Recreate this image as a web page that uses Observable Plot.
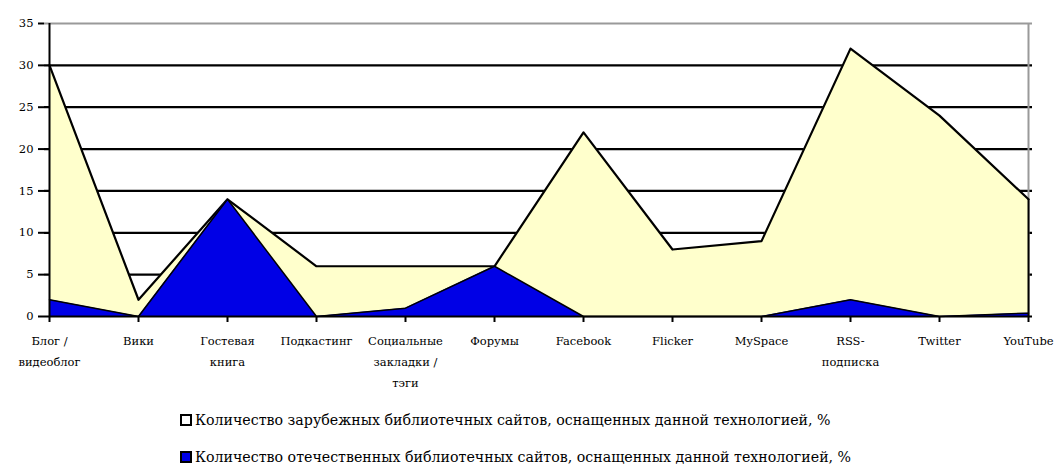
<!DOCTYPE html>
<html><head><meta charset="utf-8">
<script src="https://cdn.jsdelivr.net/npm/d3@7"></script>
<script src="https://cdn.jsdelivr.net/npm/@observablehq/plot@0.6"></script>
<style>
body{margin:0;background:#fff;font-family:"DejaVu Serif",serif;}
#wrap{position:relative;width:1064px;height:466px;overflow:hidden}
.leg{position:absolute;left:180px;font-size:14.2px;line-height:16px;height:16px;display:flex;align-items:center;color:#000;white-space:nowrap}
.sw{width:8px;height:8px;border:2px solid #000;margin-right:3px;flex:none}
</style></head><body><div id="wrap"></div>
<script>
const categories = ["Блог /\nвидеоблог","Вики","Гостевая\nкнига","Подкастинг","Социальные\nзакладки /\nтэги","Форумы","Facebook","Flicker","MySpace","RSS-\nподписка","Twitter","YouTube"];
const foreign = [30,2,14,6,6,6,22,8,9,32,24,14];
const domestic = [2,0,14,0,1,6,0,0,0,2,0,0.4];
const yTicks = [0,5,10,15,20,25,30,35];
const gridTicks = [5,10,15,20,25,30];
const legendLabels = ["Количество зарубежных библиотечных сайтов, оснащенных данной технологией, %","Количество отечественных библиотечных сайтов, оснащенных данной технологией, %"];
const legendColors = ["#ffffff","#0000e6"];
const foreignFill = "#ffffcc", domesticFill = "#0000e6";

const data = categories.map((c,i)=>({c, f:foreign[i], d:domestic[i]}));
const last = data.slice(-1), first = data.slice(0,1);

const plot = Plot.plot({
  width:1064, height:400, marginLeft:44, marginRight:32, marginTop:23, marginBottom:84,
  x:{type:"point", domain:categories, padding:0, label:null},
  y:{domain:[0,35], label:null},
  style:{fontFamily:"'DejaVu Serif', serif", fontSize:"11.5px", color:"#000", background:"#fff"},
  marks:[
    Plot.ruleY(gridTicks,{stroke:"#000",strokeWidth:2.2}),
    Plot.ruleY([35],{stroke:"#9a9a9a",strokeWidth:2}),
    Plot.ruleX(last,{x:"c",y1:0,y2:35,stroke:"#9a9a9a",strokeWidth:2}),
    Plot.areaY(data,{x:"c",y:"f",fill:foreignFill}),
    Plot.lineY(data,{x:"c",y:"f",stroke:"#000",strokeWidth:2.2}),
    Plot.areaY(data,{x:"c",y:"d",fill:domesticFill}),
    Plot.lineY(data,{x:"c",y:"d",stroke:"#000",strokeWidth:1.5}),
    Plot.ruleX(last,{x:"c",y1:0,y2:"f",stroke:"#000",strokeWidth:2}),
    Plot.ruleX(first,{x:"c",y1:0,y2:35,stroke:"#000",strokeWidth:2}),
    Plot.ruleY([0],{stroke:"#000",strokeWidth:2.2}),
    Plot.axisY(yTicks,{tickSize:6, tickPadding:5, strokeWidth:2, stroke:"#000"}),
    Plot.axisX({tickSize:6, tickPadding:8, strokeWidth:2, stroke:"#000", lineHeight:1.8})
  ]
});
const wrap = document.getElementById("wrap");
wrap.appendChild(plot);
legendLabels.forEach((t,i)=>{
  const d = document.createElement("div");
  d.className="leg"; d.style.top = (412 + i*37) + "px";
  const s = document.createElement("span"); s.className="sw"; s.style.background = legendColors[i];
  d.appendChild(s); d.appendChild(document.createTextNode(t));
  wrap.appendChild(d);
});
</script></body></html>
